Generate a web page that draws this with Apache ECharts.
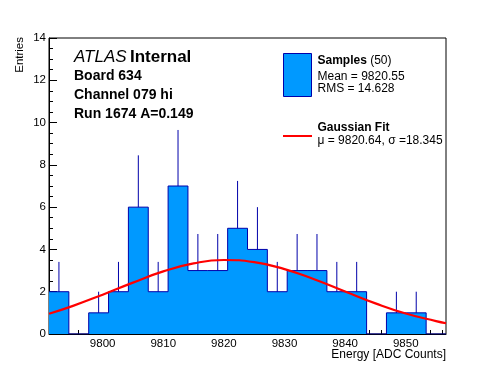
<!DOCTYPE html>
<html>
<head>
<meta charset="utf-8">
<script src="https://cdn.jsdelivr.net/npm/echarts@6/dist/echarts.min.js"></script>
<style>
html,body{margin:0;padding:0;background:#fff;}
#chart{width:496px;height:372px;}
</style>
</head>
<body>
<div id="chart"></div>
<script>
// ---- data ----
const xMin = 9791.15;
const xMax = 9856.64;
const binWidth = 3.2745;
const counts = [2, 0, 1, 2, 6, 2, 7, 3, 3, 5, 4, 2, 3, 3, 2, 2, 0, 1, 1, 0];
const errors = [1.41, 0, 1, 1.41, 2.45, 1.41, 2.65, 1.73, 1.73, 2.24, 2, 1.41, 1.73, 1.73, 1.41, 1.41, 0, 1, 1, 0];
const fitX = [9791.15, 9795, 9800, 9805, 9810, 9815, 9820, 9825, 9830, 9835, 9840, 9845, 9850, 9855, 9856.64];
const fitY = [0.96, 1.32, 1.86, 2.43, 2.96, 3.34, 3.50, 3.40, 3.07, 2.58, 2.01, 1.45, 0.97, 0.61, 0.51];
const xMajorTicks = [9800, 9810, 9820, 9830, 9840, 9850];
const xMinorTicks = [9792, 9794, 9796, 9798, 9802, 9804, 9806, 9808, 9812, 9814, 9816, 9818, 9822, 9824, 9826, 9828, 9832, 9834, 9836, 9838, 9842, 9844, 9846, 9848, 9852, 9854, 9856];
const yMin = 0, yMax = 14, yInterval = 2;

// ---- build series data ----
const stepData = [];
for (let i = 0; i < counts.length; i++) stepData.push([xMin + i * binWidth, counts[i]]);
stepData.push([xMin + counts.length * binWidth, 0]);
const errData = [];
for (let i = 0; i < counts.length; i++) {
  if (counts[i] > 0) errData.push([xMin + (i + 0.5) * binWidth, counts[i], counts[i] + errors[i]]);
}
const fitData = fitX.map((x, i) => [x, fitY[i]]);

const FONT = '"Liberation Sans", Arial, Helvetica, sans-serif';
const chart = echarts.init(document.getElementById('chart'), null, {renderer: 'canvas'});
chart.setOption({
  animation: false,
  backgroundColor: '#fff',
  grid: {left: 49, right: 50, top: 38, bottom: 38, show: true, borderColor: '#000', borderWidth: 1, backgroundColor: 'transparent'},
  xAxis: [{
    type: 'value', min: xMin, max: xMax, position: 'bottom',
    axisLine: {show: true, onZero: false, lineStyle: {color: '#000', width: 1}},
    axisTick: {show: true, inside: true, length: 9, customValues: xMajorTicks, lineStyle: {color: '#000'}},
    axisLabel: {show: true, customValues: xMajorTicks, margin: 4, color: '#000', fontSize: 11.5, fontFamily: FONT,
      formatter: function (v) { return String(Math.round(v)); }},
    splitLine: {show: false}
  }, {
    type: 'value', min: xMin, max: xMax, position: 'bottom',
    axisLine: {show: false},
    axisTick: {show: true, inside: true, length: 4, customValues: xMinorTicks, lineStyle: {color: '#000'}},
    axisLabel: {show: false},
    splitLine: {show: false}
  }],
  yAxis: {
    type: 'value', min: yMin, max: yMax, interval: yInterval,
    axisLine: {show: true, onZero: false, lineStyle: {color: '#000', width: 1}},
    axisTick: {show: true, inside: true, length: 8, lineStyle: {color: '#000'}},
    minorTick: {show: true, splitNumber: 4, length: 4, lineStyle: {color: '#000'}},
    axisLabel: {margin: 3, color: '#000', fontSize: 11.5, fontFamily: FONT},
    splitLine: {show: false}
  },
  series: [{
    type: 'line', name: 'Samples', data: stepData, step: 'end', symbol: 'none',
    lineStyle: {color: '#0000aa', width: 1},
    areaStyle: {color: '#0099ff', opacity: 1, origin: 'start'},
    z: 2
  }, {
    type: 'custom', name: 'errors', data: errData,
    renderItem: function (params, api) {
      const p0 = api.coord([api.value(0), api.value(1)]);
      const p1 = api.coord([api.value(0), api.value(2)]);
      return {type: 'line', shape: {x1: p0[0], y1: p0[1], x2: p1[0], y2: p1[1]}, style: {stroke: '#0000aa', lineWidth: 1}};
    },
    z: 3
  }, {
    type: 'line', name: 'Gaussian Fit', data: fitData, smooth: true, symbol: 'none',
    lineStyle: {color: '#ff0000', width: 2.2},
    z: 4
  }],
  graphic: [
    {type: 'text', left: 74, top: 48.5, style: {text: '{i|ATLAS} {b|Internal}', rich: {
      i: {fontStyle: 'italic', fontSize: 17, fontFamily: FONT, fill: '#000'},
      b: {fontWeight: 'bold', fontSize: 17, fontFamily: FONT, fill: '#000'}}}},
    {type: 'text', left: 74, top: 69.5, style: {text: 'Board 634', font: 'bold 14px ' + FONT, fill: '#000'}},
    {type: 'text', left: 74, top: 88.5, style: {text: 'Channel 079 hi', font: 'bold 14px ' + FONT, fill: '#000'}},
    {type: 'text', left: 74, top: 107, style: {text: 'Run 1674 A=0.149', font: 'bold 14px ' + FONT, fill: '#000'}},
    {type: 'rect', shape: {x: 283.5, y: 53.5, width: 28, height: 43}, style: {fill: '#0099ff', stroke: '#0000aa', lineWidth: 1}},
    {type: 'text', x: 317.5, y: 67, style: {text: '{b|Samples} {n|(50)}', verticalAlign: 'bottom', rich: {
      b: {fontWeight: 'bold', fontSize: 12, fontFamily: FONT, fill: '#000'},
      n: {fontSize: 12, fontFamily: FONT, fill: '#000'}}}},
    {type: 'text', x: 317.5, y: 82.5, style: {text: 'Mean = 9820.55', font: '12px ' + FONT, fill: '#000', verticalAlign: 'bottom'}},
    {type: 'text', x: 317.5, y: 95, style: {text: 'RMS = 14.628', font: '12px ' + FONT, fill: '#000', verticalAlign: 'bottom'}},
    {type: 'line', shape: {x1: 283, y1: 136, x2: 312, y2: 136}, style: {stroke: '#ff0000', lineWidth: 2}},
    {type: 'text', x: 317.5, y: 134, style: {text: 'Gaussian Fit', font: 'bold 12px ' + FONT, fill: '#000', verticalAlign: 'bottom'}},
    {type: 'text', x: 317.5, y: 146.5, style: {text: 'μ = 9820.64, σ =18.345', font: '12px ' + FONT, fill: '#000', verticalAlign: 'bottom'}},
    {type: 'text', x: 446, y: 355, style: {text: 'Energy [ADC Counts]', font: '12px ' + FONT, fill: '#000', align: 'right', verticalAlign: 'middle'}},
    {type: 'text', x: 19.5, y: 37, rotation: Math.PI / 2, style: {text: 'Entries', font: '11.5px ' + FONT, fill: '#000', align: 'right', verticalAlign: 'middle'}}
  ]
});
</script>
</body>
</html>
